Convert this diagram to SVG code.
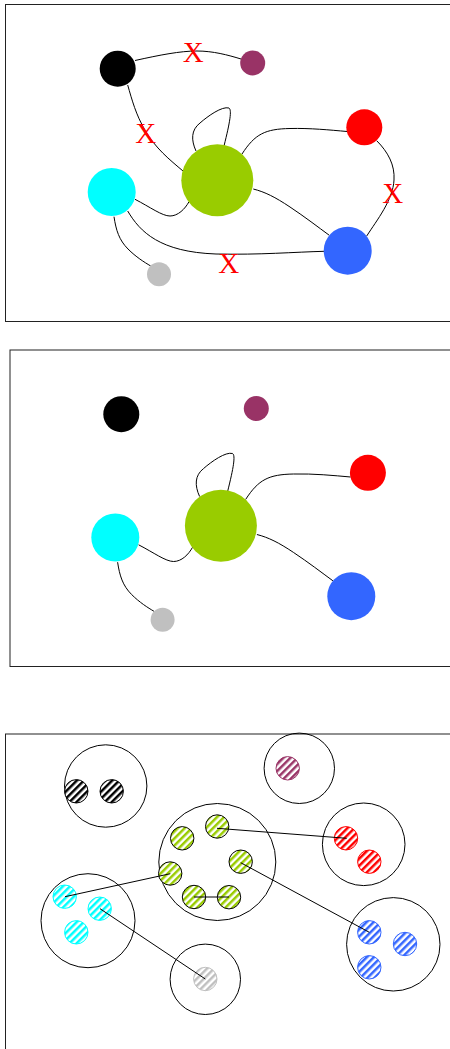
<svg xmlns="http://www.w3.org/2000/svg" width="450" height="1049" viewBox="0 0 450 1049">
<style>
.frame{fill:none;stroke:#222;stroke-width:1}
.edge{fill:none;stroke:#000;stroke-width:1}
.x{font-family:"Liberation Serif","Times New Roman",serif;font-size:29px;fill:#f00;text-anchor:middle}
.big{fill:none;stroke:#000;stroke-width:1}
.sm{stroke-width:1}
</style>
<defs>
<pattern id="hk" width="5" height="5" patternUnits="userSpaceOnUse" patternTransform="rotate(45)"><rect width="5" height="5" fill="#fff"/><rect width="2.5" height="5" fill="#000"/></pattern>
<pattern id="hp" width="5" height="5" patternUnits="userSpaceOnUse" patternTransform="rotate(45)"><rect width="5" height="5" fill="#fff"/><rect width="2.5" height="5" fill="#993366"/></pattern>
<pattern id="hr" width="5" height="5" patternUnits="userSpaceOnUse" patternTransform="rotate(45)"><rect width="5" height="5" fill="#fff"/><rect width="2.5" height="5" fill="#f00"/></pattern>
<pattern id="hg" width="5" height="5" patternUnits="userSpaceOnUse" patternTransform="rotate(45)"><rect width="5" height="5" fill="#fff"/><rect width="2.5" height="5" fill="#99CC00"/></pattern>
<pattern id="hc" width="5" height="5" patternUnits="userSpaceOnUse" patternTransform="rotate(45)"><rect width="5" height="5" fill="#fff"/><rect width="2.5" height="5" fill="#00FFFF"/></pattern>
<pattern id="hb" width="5" height="5" patternUnits="userSpaceOnUse" patternTransform="rotate(45)"><rect width="5" height="5" fill="#fff"/><rect width="2.5" height="5" fill="#3366FF"/></pattern>
<pattern id="hs" width="5" height="5" patternUnits="userSpaceOnUse" patternTransform="rotate(45)"><rect width="5" height="5" fill="#fff"/><rect width="2.5" height="5" fill="#C0C0C0"/></pattern>
</defs>
<rect width="450" height="1049" fill="#fff"/>

<!-- Panel 1 -->
<rect class="frame" x="5.5" y="4.5" width="460" height="317"/>
<g id="p1-connectors">
<path class="edge" d="M135,60.5 C160,55 180,51 197,51 C213,51 228,55 241,59"/>
<path class="edge" d="M127.7,85 C132,100 136,115 145,130 C155,148 170,160 183,171"/>
<path class="edge" d="M196,151 C191,140 191,130 200,123 C208,116 222,106 229,108 C232,110 230,122 224,146"/>
<path class="edge" d="M242,154 C255,134 265,129 290,128.5 C310,128 330,130 347,131.5"/>
<path class="edge" d="M376.7,140.7 C388,152 395,165 394,180 C393,200 377,220 366.7,236"/>
<path class="edge" d="M253.3,189 C265,192 275,197 290,207 C305,217 318,227 329.3,235.3"/>
<path class="edge" d="M135,199.3 C150,207 162,216 170,216 C178,216 185,209 189,201.7"/>
<path class="edge" d="M127.7,211 C140,232 160,252 216,254 C260,255 295,252 324.3,251.3"/>
<path class="edge" d="M114,216.7 C116,230 119,240 128,249 C136,257 144,262 150.7,266"/>
<text class="x" x="193.3" y="61.7">X</text>
<text class="x" x="145.7" y="143.3">X</text>
<text class="x" x="392.7" y="202.7">X</text>
<text class="x" x="228.7" y="273.3">X</text>
</g>
<g id="p1-black"><circle cx="117.7" cy="68.7" r="18" fill="#000"/></g>
<g id="p1-purple"><circle cx="252.7" cy="63" r="12.5" fill="#993366"/></g>
<g id="p1-red"><circle cx="364.3" cy="127.3" r="18" fill="#f00"/></g>
<g id="p1-green"><circle cx="217.3" cy="180.3" r="36" fill="#99CC00"/></g>
<g id="p1-cyan"><circle cx="111.7" cy="192" r="24" fill="#00FFFF"/></g>
<g id="p1-blue"><circle cx="347.7" cy="250.7" r="24" fill="#3366FF"/></g>
<g id="p1-gray"><circle cx="159" cy="274.3" r="12" fill="#C0C0C0"/></g>

<!-- Panel 2 -->
<rect class="frame" x="10" y="350" width="460" height="316.5"/>
<g transform="translate(3.6,345.5)">
<g id="p2-connectors">
<path class="edge" d="M196,151 C191,140 191,130 200,123 C208,116 222,106 229,108 C232,110 230,122 224,146"/>
<path class="edge" d="M242,154 C255,134 265,129 290,128.5 C310,128 330,130 347,131.5"/>
<path class="edge" d="M253.3,189 C265,192 275,197 290,207 C305,217 318,227 329.3,235.3"/>
<path class="edge" d="M135,199.3 C150,207 162,216 170,216 C178,216 185,209 189,201.7"/>
<path class="edge" d="M114,216.7 C116,230 119,240 128,249 C136,257 144,262 150.7,266"/>
</g>
<g id="p2-black"><circle cx="117.7" cy="68.7" r="18" fill="#000"/></g>
<g id="p2-purple"><circle cx="252.7" cy="63" r="12.5" fill="#993366"/></g>
<g id="p2-red"><circle cx="364.3" cy="127.3" r="18" fill="#f00"/></g>
<g id="p2-green"><circle cx="217.3" cy="180.3" r="36" fill="#99CC00"/></g>
<g id="p2-cyan"><circle cx="111.7" cy="192" r="24" fill="#00FFFF"/></g>
<g id="p2-blue"><circle cx="347.7" cy="250.7" r="24" fill="#3366FF"/></g>
<g id="p2-gray"><circle cx="159" cy="274.3" r="12" fill="#C0C0C0"/></g>
</g>

<!-- Panel 3 -->
<rect class="frame" x="5.5" y="734" width="460" height="330"/>
<g id="p3-black">
<circle class="big" cx="105.7" cy="786" r="41.2"/>
<circle class="sm" cx="76.3" cy="791.3" r="11.7" fill="url(#hk)" stroke="#000"/>
<circle class="sm" cx="111.7" cy="791.3" r="11.7" fill="url(#hk)" stroke="#000"/>
</g>
<g id="p3-purple">
<circle class="big" cx="299.3" cy="768.3" r="35.2"/>
<circle class="sm" cx="287.7" cy="768.3" r="11.7" fill="url(#hp)" stroke="#993366"/>
</g>
<g id="p3-green">
<circle class="big" cx="217.3" cy="862" r="58.5"/>
<circle class="sm" cx="182.2" cy="838.3" r="11.7" fill="url(#hg)" stroke="#000"/>
<circle class="sm" cx="217.2" cy="826.5" r="11.7" fill="url(#hg)" stroke="#000"/>
<circle class="sm" cx="240.7" cy="861.7" r="11.7" fill="url(#hg)" stroke="#000"/>
<circle class="sm" cx="170.2" cy="873.5" r="11.7" fill="url(#hg)" stroke="#000"/>
<circle class="sm" cx="194" cy="897" r="11.7" fill="url(#hg)" stroke="#000"/>
<circle class="sm" cx="229" cy="897.2" r="11.7" fill="url(#hg)" stroke="#000"/>
</g>
<g id="p3-red">
<circle class="big" cx="363.7" cy="844.3" r="41.3"/>
<circle class="sm" cx="346" cy="838.3" r="11.7" fill="url(#hr)" stroke="#f00"/>
<circle class="sm" cx="369.3" cy="861.7" r="11.7" fill="url(#hr)" stroke="#f00"/>
</g>
<g id="p3-cyan">
<circle class="big" cx="88" cy="920.7" r="47"/>
<circle class="sm" cx="64.7" cy="896.7" r="11.7" fill="url(#hc)" stroke="#00FFFF"/>
<circle class="sm" cx="99.7" cy="908.7" r="11.7" fill="url(#hc)" stroke="#00FFFF"/>
<circle class="sm" cx="76.3" cy="932.3" r="11.7" fill="url(#hc)" stroke="#00FFFF"/>
</g>
<g id="p3-gray">
<circle class="big" cx="205.3" cy="979.3" r="35.2"/>
<circle class="sm" cx="205.3" cy="979" r="11.7" fill="url(#hs)" stroke="#C0C0C0"/>
</g>
<g id="p3-blue">
<circle class="big" cx="393.3" cy="944.3" r="46.7"/>
<circle class="sm" cx="369.3" cy="932.3" r="11.7" fill="url(#hb)" stroke="#3366FF"/>
<circle class="sm" cx="405" cy="944" r="11.7" fill="url(#hb)" stroke="#3366FF"/>
<circle class="sm" cx="369.3" cy="967.3" r="11.7" fill="url(#hb)" stroke="#3366FF"/>
</g>
<g id="p3-connectors">
<line class="edge" x1="217" y1="828.3" x2="346.7" y2="838.3"/>
<line class="edge" x1="65" y1="896.7" x2="170.3" y2="873.7"/>
<line class="edge" x1="100" y1="908.7" x2="205.3" y2="979"/>
<line class="edge" x1="240.7" y1="862.7" x2="369.3" y2="932.3"/>
<line class="edge" x1="194" y1="897" x2="229" y2="897"/>
</g>
</svg>
